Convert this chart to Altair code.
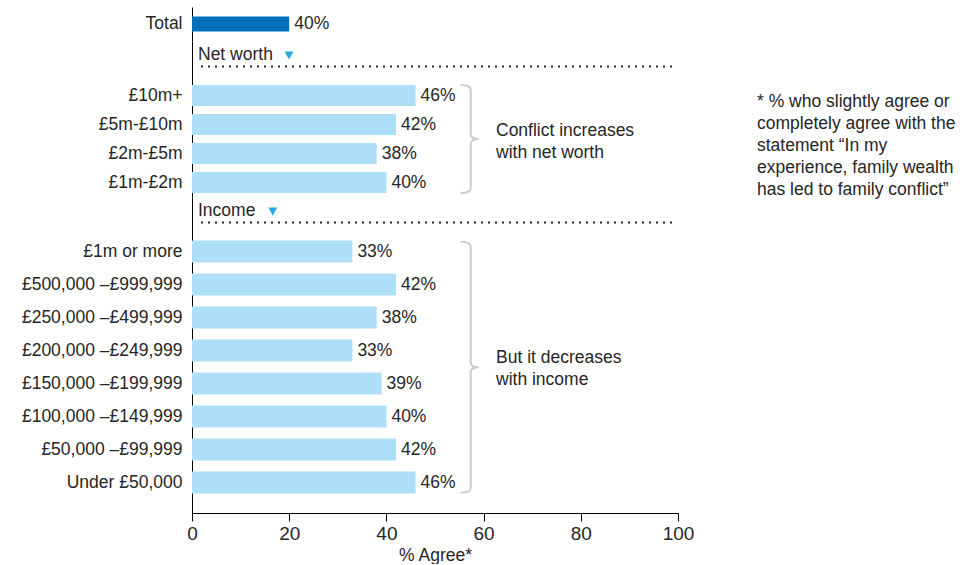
import altair as alt
import pandas as pd

# ---------------- data ----------------
total_cats = ["Total"]
total_values = [40]          # printed label
total_drawn = [20]           # the reference draws the Total bar only to 20 on the axis

nw_cats = ["£10m+", "£5m-£10m", "£2m-£5m", "£1m-£2m"]
nw_values = [46, 42, 38, 40]

inc_cats = ["£1m or more", "£500,000 –£999,999", "£250,000 –£499,999",
            "£200,000 –£249,999", "£150,000 –£199,999", "£100,000 –£149,999",
            "£50,000 –£99,999", "Under £50,000"]
inc_values = [33, 42, 38, 33, 39, 40, 42, 46]

group_titles = ["Net worth", "Income"]
group_notes = [["Conflict increases", "with net worth"],
               ["But it decreases", "with income"]]
footnote = ["* % who slightly agree or", "completely agree with the",
            "statement \u201cIn my", "experience, family wealth",
            "has led to family conflict\u201d"]
x_ticks = [0, 20, 40, 60, 80, 100]
x_title = "% Agree*"

# ---------------- styling ----------------
FONT = "Liberation Sans"
TXT = "#262626"
DARK = "#0071bc"
LIGHT = "#aedff8"
TRI = "#29a9e1"
BRACE = "#cccccc"
W = 486
FS = 17.5


def brace_path(h, e=10.0, t=8.0, r=5.0, th=5.0):
    s = h / 2.0
    pts = [(-e, -s), (0, -s), (0, -s + r), (0, -th), (0, 0), (t, 0), (0, 0),
           (0, th), (0, s - r), (0, s), (-e, s)]
    p = [(x / s, y / s) for x, y in pts]
    f = lambda q: f"{q[0]:.4f},{q[1]:.4f}"
    return (f"M{f(p[0])} Q{f(p[1])} {f(p[2])} L{f(p[3])} Q{f(p[4])} {f(p[5])} "
            f"Q{f(p[6])} {f(p[7])} L{f(p[8])} Q{f(p[9])} {f(p[10])}")


def bars(cats, drawn, labels, color, size, height, step, top_extra, bottom_extra, xaxis):
    df = pd.DataFrame({"cat": cats, "v": drawn, "lbl": [f"{v}%" for v in labels]})
    n = len(cats)
    po = (height / step - n) / 2.0
    extra = top_extra + bottom_extra
    align = top_extra / extra if extra > 0 else 0.5
    y = alt.Y("cat:N", sort=cats, title=None,
              scale=alt.Scale(paddingInner=0, paddingOuter=po, align=align),
              axis=alt.Axis(ticks=False, labelPadding=10, minExtent=182, maxExtent=182,
                            labelLimit=400, domainColor="black"))
    if xaxis:
        x = alt.X("v:Q", scale=alt.Scale(domain=[0, 100], nice=False),
                  axis=alt.Axis(values=x_ticks, title=x_title, grid=False, tickSize=8,
                                labelFontSize=19, titleFontSize=17.5, titleFontWeight="normal",
                                labelPadding=3, titlePadding=3, domainColor="black",
                                tickColor="black", labelFlush=False))
    else:
        x = alt.X("v:Q", scale=alt.Scale(domain=[0, 100], nice=False), axis=None)
    base = alt.Chart(df)
    b = base.mark_bar(size=size, color=color).encode(x=x, y=y)
    t = base.mark_text(align="left", baseline="middle", dx=5, font=FONT,
                       fontSize=FS, color=TXT).encode(x="v:Q", y=alt.Y("cat:N", sort=cats), text="lbl:N")
    return [b, t]


def header(title, tri_x):
    d = alt.Chart(pd.DataFrame({"t": [title]}))
    txt = d.mark_text(align="left", baseline="alphabetic", font=FONT,
                      fontSize=FS, color=TXT).encode(x=alt.value(6), y=alt.value(19), text="t:N")
    tri = d.mark_point(shape="triangle-down", filled=True, size=81, color=TRI,
                       opacity=1).encode(x=alt.value(tri_x), y=alt.value(14.5))
    dots = d.mark_rule(strokeDash=[2, 5], strokeWidth=2, color=TXT).encode(
        x=alt.value(9), x2=alt.value(484), y=alt.value(25.5))
    return [txt, tri, dots]


def brace(h, yc, lines, ty):
    d = alt.Chart(pd.DataFrame({"t": ["\n".join(lines)]}))
    br = d.mark_point(shape=brace_path(h), filled=False, size=h * h, color=BRACE,
                      strokeWidth=2, opacity=1).encode(x=alt.value(278.7), y=alt.value(yc))
    tx = d.mark_text(align="left", baseline="middle", lineBreak="\n", lineHeight=22,
                     font=FONT, fontSize=FS, color=TXT).encode(
        x=alt.value(304), y=alt.value(ty), text="t:N")
    return [br, tx]


# Total panel
p_total = alt.layer(*bars(total_cats, total_drawn, total_values, DARK, 15, 34, 34, 0, 0, False)
                    ).properties(width=W, height=34)

# Net worth panel
fn = alt.Chart(pd.DataFrame({"t": ["\n".join(footnote)]})).mark_text(
    align="left", baseline="middle", lineBreak="\n", lineHeight=22.2, font=FONT,
    fontSize=FS, color=TXT).encode(x=alt.value(565), y=alt.value(60.7), text="t:N")
p_nw = alt.layer(*bars(nw_cats, nw_values, nw_values, LIGHT, 21, 156, 29, 40, 0, False),
                 *header(group_titles[0], 97),
                 *brace(108, 98.1, group_notes[0], 90),
                 fn).properties(width=W, height=156)

# Income panel
p_inc = alt.layer(*bars(inc_cats, inc_values, inc_values, LIGHT, 22, 316, 33, 38, 14, True),
                  *header(group_titles[1], 80.7),
                  *brace(251, 170.2, group_notes[1], 161.3)
                  ).properties(width=W, height=316)

chart = alt.vconcat(p_total, p_nw, p_inc, spacing=0, bounds="flush").properties(
    padding={"left": 10, "top": 7, "right": 0, "bottom": 0}
).configure_view(strokeWidth=0).configure_axis(
    labelFont=FONT, titleFont=FONT,
    labelColor=TXT, titleColor=TXT, labelFontSize=FS
).configure_concat(spacing=0)

chart.save("out.html", embed_options={"renderer": "svg", "actions": False})
